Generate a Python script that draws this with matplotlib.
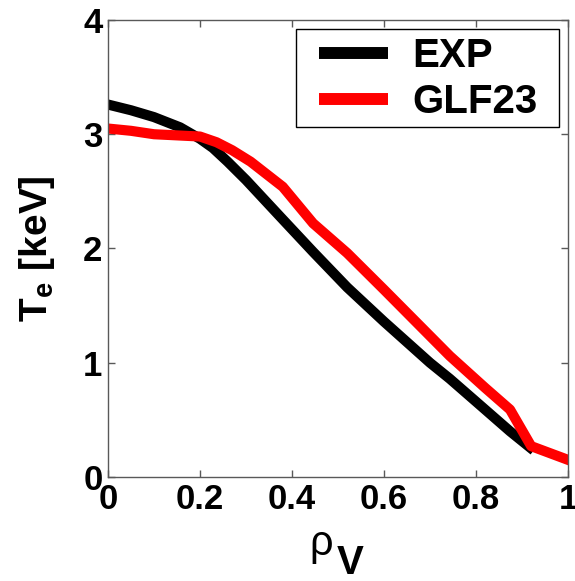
import matplotlib
matplotlib.use("Agg")
import matplotlib.pyplot as plt
from matplotlib.patches import Rectangle

plt.rcParams['font.family'] = ['Liberation Sans', 'DejaVu Sans']
plt.rcParams['font.weight'] = 'bold'
plt.rcParams['mathtext.fontset'] = 'custom'
plt.rcParams['mathtext.rm'] = 'Liberation Sans'
plt.rcParams['mathtext.bf'] = 'Liberation Sans:bold'
plt.rcParams['mathtext.it'] = 'Liberation Sans:italic'

# data
rho_exp = [0, 0.05, 0.1, 0.157, 0.2, 0.228, 0.26, 0.30, 0.374, 0.446, 0.52, 0.6, 0.7, 0.743, 0.8, 0.874, 0.917]
te_exp = [3.26, 3.21, 3.15, 3.06, 2.96, 2.88, 2.76, 2.60, 2.28, 1.97, 1.66, 1.36, 1.0, 0.86, 0.66, 0.40, 0.26]

rho_glf = [0, 0.05, 0.1, 0.15, 0.2, 0.236, 0.27, 0.31, 0.38, 0.446, 0.52, 0.6, 0.743, 0.82, 0.874, 0.92, 0.96, 1.0]
te_glf = [3.05, 3.03, 3.0, 2.99, 2.98, 2.93, 2.86, 2.76, 2.54, 2.22, 1.96, 1.64, 1.06, 0.78, 0.59, 0.27, 0.21, 0.15]

xticks = [0, 0.2, 0.4, 0.6, 0.8, 1]
xtick_labels = ['0', '0.2', '0.4', '0.6', '0.8', '1']
yticks = [0, 1, 2, 3, 4]

fig = plt.figure(figsize=(5.75, 5.81), dpi=100)
ax = fig.add_axes([0.1878, 0.179, 0.8, 0.7866])

ax.plot(rho_exp, te_exp, color='k', lw=7.3, label='EXP', solid_joinstyle='round')
ax.plot(rho_glf, te_glf, color='#ff0000', lw=7.3, label='GLF23', solid_joinstyle='round')

ax.set_xlim(0, 1)
ax.set_ylim(0, 4)
ax.set_xticks(xticks)
ax.set_xticklabels(xtick_labels)
ax.set_yticks(yticks)
ax.tick_params(direction='in', length=5, width=1, color='0.35', top=True, right=True,
               labelsize=25, pad=4)
for s in ax.spines.values():
    s.set_color('0.35')
    s.set_linewidth(1)

# x label: thin rho with a big bold V as subscript
ax.text(0.463, -0.171, 'ρ', transform=ax.transAxes, ha='center', va='baseline',
        fontsize=30, fontweight='normal')
ax.text(0.526, -0.212, 'V', transform=ax.transAxes, ha='center', va='baseline',
        fontsize=29, fontweight='bold')
ax.set_ylabel('$\\mathbf{T_e}\\ \\mathbf{[keV]}$', fontsize=28, labelpad=19)

# legend without frame, box drawn separately so the side padding matches
leg = ax.legend(loc='upper left', bbox_to_anchor=(0.459, 0.962), fontsize=29,
                frameon=False, handlelength=1.7, handletextpad=0.62,
                borderpad=0, labelspacing=0.2, borderaxespad=0)
for line in leg.get_lines():
    line.set_linewidth(8.6)
    line.set_solid_capstyle('butt')
ax.add_patch(Rectangle((0.409, 0.766), 0.571, 0.214, transform=ax.transAxes,
                       fill=True, facecolor='white', edgecolor='k', lw=1, zorder=4))
leg.set_zorder(5)

fig.savefig('out.png', dpi=100)
